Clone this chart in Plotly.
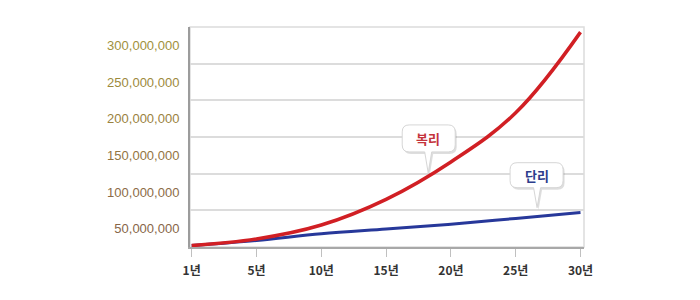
import plotly.graph_objects as go

# ---- data ----
years = ["1년", "5년", "10년", "15년", "20년", "25년", "30년"]
compound = [27e6, 36e6, 55e6, 90e6, 141e6, 208e6, 318e6]   # 복리
simple = [27e6, 34e6, 43e6, 49.5e6, 56e6, 64e6, 72e6]        # 단리
ytick_vals = [50e6, 100e6, 150e6, 200e6, 250e6, 300e6]
ytick_text = ["50,000,000", "100,000,000", "150,000,000",
              "200,000,000", "250,000,000", "300,000,000"]
ytick_colors = ["#876648", "#8c6c46", "#937542", "#9a823e", "#9d8a3c", "#a0913c"]
grid_vals = [75e6, 125e6, 175e6, 225e6, 275e6]

KFONT = "Noto Sans CJK KR"

fig = go.Figure()
fig.add_trace(go.Scatter(x=years, y=simple, mode="lines",
                         line=dict(color="#27389a", width=3, shape="spline", smoothing=1.0),
                         hoverinfo="skip", showlegend=False))
fig.add_trace(go.Scatter(x=years, y=compound, mode="lines",
                         line=dict(color="#d11f24", width=3.5, shape="spline", smoothing=1.1),
                         hoverinfo="skip", showlegend=False))

ticktext = [f"<span style='color:{c}'>{t}</span>" for t, c in zip(ytick_text, ytick_colors)]


def bubble_path(x0, x1, yb, yt, r, tw, dx=0.0, dy=0.0):
    p = lambda x, y: f"{x + dx:.2f},{y + dy:.2f}"
    return (f"M{p(x0 + r, yb)} L{p(-tw, yb)} L{p(0, 0)} L{p(tw, yb)} L{p(x1 - r, yb)} "
            f"Q{p(x1, yb)} {p(x1, yb + r)} L{p(x1, yt - r)} Q{p(x1, yt)} {p(x1 - r, yt)} "
            f"L{p(x0 + r, yt)} Q{p(x0, yt)} {p(x0, yt - r)} L{p(x0, yb + r)} "
            f"Q{p(x0, yb)} {p(x0 + r, yb)} Z")


shapes = [
    # plot frame (light)
    dict(type="rect", xref="paper", yref="paper", x0=0, x1=1, y0=0, y1=1,
         line=dict(color="#dcdcdc", width=1.5), layer="below"),
]

bubbles = [
    # (tip x index, tip y value, x0, x1, yb, yt, text, color, text yshift)
    (3.65, 126e6, -26, 27, 21, 48, "복리", "#c4343c", 34),
    (5.33, 78.6e6, -27, 26, 20, 45, "단리", "#2d3d8c", 32),
]
annotations = []
for xi, yv, x0, x1, yb, yt, txt, col, ys in bubbles:
    shapes.append(dict(type="path", xref="x", yref="y", xsizemode="pixel", ysizemode="pixel",
                       xanchor=xi, yanchor=yv,
                       path=bubble_path(x0, x1, yb, yt, 7, 3.5, dx=1.5, dy=-2),
                       fillcolor="rgba(0,0,0,0.13)", line=dict(width=0), layer="above"))
    shapes.append(dict(type="path", xref="x", yref="y", xsizemode="pixel", ysizemode="pixel",
                       xanchor=xi, yanchor=yv,
                       path=bubble_path(x0, x1, yb, yt, 7, 3.5),
                       fillcolor="white", line=dict(color="#d6d6d6", width=1), layer="above"))
    annotations.append(dict(x=xi, y=yv, xref="x", yref="y", text=f"<b>{txt}</b>",
                            showarrow=False, yshift=ys, xshift=0,
                            font=dict(family=KFONT, size=13, color=col)))

fig.update_layout(
    width=700, height=300,
    margin=dict(l=190, r=116, t=27, b=53),
    paper_bgcolor="white", plot_bgcolor="white",
    shapes=shapes, annotations=annotations,
    xaxis=dict(type="category", categoryorder="array", categoryarray=years,
               range=[-0.026, 6.054], showgrid=False, zeroline=False,
               showline=True, linecolor="#a8a8a8", linewidth=1.5,
               ticks="outside", ticklen=8, tickcolor="#c0c0c0", tickwidth=1,
               ticklabelstandoff=4,
               tickfont=dict(family=KFONT, size=12, color="#333333", weight="bold")),
    yaxis=dict(range=[25e6, 325e6], tickmode="array", tickvals=ytick_vals, ticktext=ticktext,
               showgrid=False, zeroline=False, showline=True, linecolor="#9c9c9c", linewidth=2,
               ticks="", ticklabelstandoff=6,
               tickfont=dict(family="Liberation Sans", size=13),
               minor=dict(tickmode="array", tickvals=grid_vals, showgrid=True,
                          gridcolor="#dcdcdc", gridwidth=1.5, ticks="")),
)

fig.write_html("out.html")
